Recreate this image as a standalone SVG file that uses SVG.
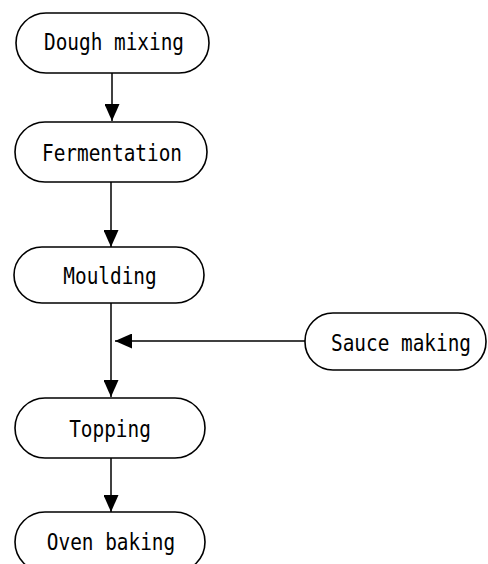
<svg xmlns="http://www.w3.org/2000/svg" width="488" height="564" viewBox="0 0 488 564">
<defs>
<style>
.box{fill:#fff;stroke:#000;stroke-width:1.6}
.lbl{font-family:"DejaVu Sans Mono","Liberation Mono",monospace;font-size:19.4px;fill:#000;text-anchor:middle}
.con{stroke:#000;stroke-width:1.5;fill:none}
</style>
<marker id="ah" markerUnits="userSpaceOnUse" markerWidth="17" markerHeight="15" refX="17" refY="7.5" orient="auto">
<path d="M0,0 L17,7.5 L0,15 z" fill="#000"/>
</marker>
</defs>
<rect width="488" height="564" fill="#fff"/>
<g id="connectors">
<line class="con" x1="112" y1="73" x2="112" y2="121" marker-end="url(#ah)"/>
<line class="con" x1="111" y1="182" x2="111" y2="247" marker-end="url(#ah)"/>
<line class="con" x1="111" y1="303" x2="111" y2="397" marker-end="url(#ah)"/>
<line class="con" x1="305" y1="341" x2="115" y2="341" marker-end="url(#ah)"/>
<line class="con" x1="111" y1="458" x2="111" y2="512" marker-end="url(#ah)"/>
</g>
<g id="dough-mixing">
<rect class="box" x="16" y="13" width="193" height="60" rx="30" ry="30"/>
<text class="lbl" transform="translate(114,50) scale(1,1.2)">Dough mixing</text>
</g>
<g id="fermentation">
<rect class="box" x="15" y="122" width="192" height="60" rx="30" ry="30"/>
<text class="lbl" transform="translate(112,161) scale(1,1.2)">Fermentation</text>
</g>
<g id="moulding">
<rect class="box" x="14" y="247" width="190" height="56" rx="28" ry="28"/>
<text class="lbl" transform="translate(110,284) scale(1,1.2)">Moulding</text>
</g>
<g id="sauce-making">
<rect class="box" x="305" y="313" width="181" height="57" rx="28" ry="28"/>
<text class="lbl" transform="translate(401,351) scale(1,1.2)">Sauce making</text>
</g>
<g id="topping">
<rect class="box" x="15" y="398" width="190" height="60" rx="30" ry="30"/>
<text class="lbl" transform="translate(110,437) scale(1,1.2)">Topping</text>
</g>
<g id="oven-baking">
<rect class="box" x="15" y="512" width="190" height="60" rx="30" ry="30"/>
<text class="lbl" transform="translate(111,550) scale(1,1.2)">Oven baking</text>
</g>
</svg>
